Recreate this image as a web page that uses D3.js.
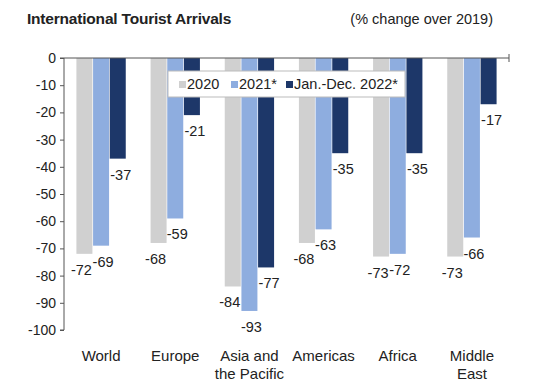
<!DOCTYPE html>
<html>
<head>
<meta charset="utf-8">
<script src="https://cdn.jsdelivr.net/npm/d3@7"></script>
<style>
  body { margin: 0; background: #fff; }
  text { font-family: "Liberation Sans", Arial, sans-serif; fill: #222; }
</style>
</head>
<body>
<script>
// regions along the x axis (second line goes under the first)
var regions = [["World"], ["Europe"], ["Asia and", "the Pacific"], ["Americas"], ["Africa"], ["Middle", "East"]];

// series, % change over 2019
var seriesNames = ["2020", "2021*", "Jan.-Dec. 2022*"];
var v2020 = [-72, -68, -84, -68, -73, -73];
var v2021 = [-69, -59, -93, -63, -72, -66];
var v2022 = [-37, -21, -77, -35, -35, -17];

var yTicks = [0, -10, -20, -30, -40, -50, -60, -70, -80, -90, -100];

var colors = ["#d0d0d0", "#8eaddf", "#1d3769"];

var width = 540, height = 389;
var margin = {top: 58, left: 64, right: 31, bottom: 59};

var svg = d3.select("body").append("svg")
    .attr("width", width)
    .attr("height", height);

// titles
svg.append("text")
    .attr("x", 27).attr("y", 24)
    .style("font-size", "15.5px").style("font-weight", "bold")
    .style("letter-spacing", "-0.2px")
    .text("International Tourist Arrivals");

svg.append("text")
    .attr("x", 493).attr("y", 24)
    .attr("text-anchor", "end")
    .style("font-size", "14.5px")
    .text("(% change over 2019)");

var x = d3.scaleBand()
    .domain(d3.range(regions.length))
    .range([margin.left, width - margin.right]);

var y = d3.scaleLinear()
    .domain([0, -100])
    .range([margin.top, height - margin.bottom]);

var barW = 16;
var inner = d3.scaleBand()
    .domain(d3.range(seriesNames.length))
    .range([x.bandwidth() / 2 - 25, x.bandwidth() / 2 + 25]);

var series = [v2020, v2021, v2022];
var labelDx = [-3, 2, 3];

series.forEach(function(vals, s) {
  var g = svg.append("g");
  g.selectAll("rect")
    .data(vals)
    .enter().append("rect")
      .attr("x", function(d, i) { return x(i) + inner(s) + (inner.bandwidth() - barW) / 2; })
      .attr("y", y(0))
      .attr("width", barW)
      .attr("height", function(d) { return y(d) - y(0); })
      .attr("fill", colors[s]);

  g.selectAll("text")
    .data(vals)
    .enter().append("text")
      .attr("x", function(d, i) { return x(i) + inner(s) + inner.bandwidth() / 2 + labelDx[s]; })
      .attr("y", function(d) { return y(d) + 21; })
      .attr("text-anchor", "middle")
      .style("font-size", "14.5px")
      .text(function(d) { return String(d); });
});

// y axis
var yAxis = d3.axisLeft(y)
    .tickValues(yTicks)
    .tickFormat(String)
    .tickSize(4)
    .tickPadding(4);

var gy = svg.append("g")
    .attr("transform", "translate(" + margin.left + ",0)")
    .call(yAxis);
gy.select(".domain").attr("stroke", "#555").attr("d", "M-4," + y(0) + "H0V" + y(-100) + "H-4");
gy.selectAll(".tick line").attr("stroke", "#555");
gy.selectAll(".tick text")
    .style("font-size", "14px")
    .style("font-family", "'Liberation Sans', Arial, sans-serif")
    .attr("fill", "#222");

// x axis along zero
var gx = svg.append("g")
    .attr("transform", "translate(0," + y(0) + ")")
    .call(d3.axisTop(x).tickSize(0).tickFormat(""));
gx.select(".domain").attr("stroke", "#555")
    .attr("d", "M" + margin.left + ",0H" + (width - margin.right) + "M" + (width - margin.right) + ",-4V4");

// category labels
var cat = svg.append("g").selectAll("text")
    .data(regions)
    .enter().append("text")
      .attr("x", function(d, i) { return x(i) + x.bandwidth() / 2; })
      .attr("y", 361)
      .attr("text-anchor", "middle")
      .style("font-size", "15px");
cat.selectAll("tspan")
    .data(function(d) { return d; })
    .enter().append("tspan")
      .attr("x", function() { return d3.select(this.parentNode).attr("x"); })
      .attr("dy", function(d, i) { return i ? 18 : 0; })
      .text(function(d) { return d; });

// legend
var lg = svg.append("g").attr("transform", "translate(168,71)");
lg.append("rect")
    .attr("width", 237).attr("height", 26)
    .attr("fill", "#fff")
    .attr("stroke", "#bbb");
var legX = [11, 63, 118];
seriesNames.forEach(function(n, s) {
  lg.append("rect")
      .attr("x", legX[s]).attr("y", 10)
      .attr("width", 7).attr("height", 7)
      .attr("fill", colors[s]);
  lg.append("text")
      .attr("x", legX[s] + 8).attr("y", 18)
      .style("font-size", "14.5px")
      .text(n);
});
</script>
</body>
</html>
